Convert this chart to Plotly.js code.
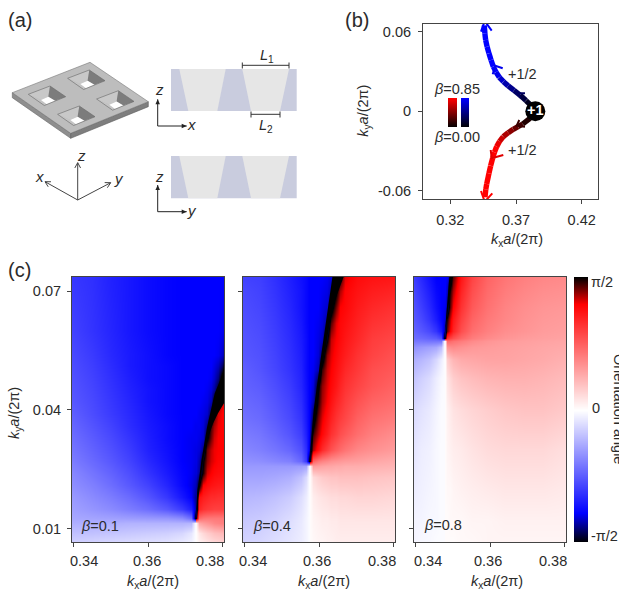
<!DOCTYPE html>
<html><head><meta charset="utf-8">
<script src="https://cdn.plot.ly/plotly-3.0.1.min.js"></script>
<style>html,body{margin:0;padding:0;background:#fff;overflow:hidden}</style>
</head><body><div id="chart" style="width:619px;height:592px"></div>
<script>
// ---------- panel (c) fields: orientation angle in degrees, rows bottom to top
const kx1=[.3395,.345,.35,.355,.36,.365,.369,.3715,.37263,.37267,.3737,.3747,.3757,.3767,.3777,.3787,.3797,.3803];
const ky1=[.0066,.009,.0114,.0126,.015,.018,.021,.024,.027,.03,.033,.036,.039,.042,.045,.048,.051,.054,.06,.0736];
const angle1=[
[-13,-12,-11,-10,-9,-8,-6,-4,-1,1,4,6,8,10,11,12,13,13],
[-17,-17,-16,-15,-14,-13,-11,-7,-1,1,7,11,14,16,18,19,20,21],
[-22,-22,-22,-21,-21,-21,-21,-20,-2,2,25,28,30,32,34,35,36,36],
[-24,-25,-26,-27,-28,-29,-32,-40,-88,-88,42,39,38,38,38,38,38,38],
[-26,-29,-32,-36,-40,-46,-54,-62,-75,-75,62,58,56,55,54,54,54,54],
[-28,-32,-36,-41,-47,-55,-64,-70,-78,-78,68,64,62,60,60,59,59,59],
[-31,-35,-40,-46,-52,-60,-68,-72,-75,-77,-88,72,69,67,66,65,65,65],
[-33,-38,-43,-49,-56,-63,-69,-71,-73,-73,-78,88,75,72,70,69,69,69],
[-36,-41,-46,-52,-59,-65,-70,-71,-72,-72,-76,-89,80,75,73,71,71,71],
[-38,-43,-48,-54,-61,-66,-70,-71,-72,-72,-73,-80,82,76,73,72,72,72],
[-40,-45,-50,-56,-62,-67,-70,-71,-71,-71,-72,-74,-88,82,75,72,72,72],
[-42,-47,-52,-58,-63,-67,-70,-70,-71,-71,-71,-73,-80,85,78,73,72,72],
[-44,-49,-54,-59,-64,-68,-70,-70,-70,-70,-71,-72,-74,-84,84,75,72,72],
[-46,-50,-55,-60,-65,-68,-70,-70,-70,-70,-70,-71,-72,-76,-89,80,74,72],
[-47,-51,-56,-61,-65,-68,-70,-70,-70,-70,-70,-70,-71,-73,-78,-88,78,74],
[-48,-52,-57,-62,-66,-68,-70,-70,-70,-70,-70,-70,-70,-71,-74,-80,85,80],
[-49,-53,-58,-63,-66,-68,-70,-70,-70,-70,-70,-70,-70,-70,-72,-75,-82,-90],
[-50,-54,-59,-63,-66,-69,-70,-70,-70,-70,-70,-70,-70,-70,-70,-71,-74,-78],
[-52,-56,-60,-64,-67,-69,-70,-70,-70,-70,-70,-70,-70,-70,-70,-70,-71,-72],
[-55,-57,-61,-64,-67,-69,-70,-70,-70,-70,-70,-70,-70,-70,-70,-70,-70,-70]];
const bandX1=[.37265,.37309,.37426,.37577,.37782,.3803,.3803,.37869,.3774,.37609,.3747,.3738,.37265];
const bandY1=[.01204,.01896,.02738,.03578,.04422,.05,.0417,.03917,.03664,.03326,.02738,.02064,.01204];

const kx2=[.3395,.344,.348,.352,.355,.3565,.35734,.35736,.3584,.3596,.3608,.362,.3632,.3644,.3656,.3668,.37,.374,.3803];
const ky2=[.0066,.012,.018,.023,.0259,.0272,.03,.034,.038,.042,.046,.05,.054,.058,.062,.066,.07,.0736];
const angle2=[
[-12,-11,-9,-7,-5,-3,-1,1,2,3,3,4,4,5,5,5,5,5,5],
[-15,-14,-12,-9,-6,-3,-1,1,3,4,5,5,6,6,7,7,7,7,7],
[-20,-19,-17,-14,-9,-5,-1,1,5,7,8,9,10,10,11,11,12,12,11],
[-25,-25,-24,-22,-17,-10,-1,1,10,13,15,16,17,17,18,18,18,17,16],
[-28,-28,-28,-28,-27,-25,-2,2,28,27,26,25,25,24,24,23,23,22,21],
[-30,-31,-33,-35,-42,-55,-88,-88,44,38,35,33,31,30,29,28,27,25,23],
[-33,-35,-38,-42,-48,-58,-72,-82,78,68,60,54,49,45,42,39,34,31,28],
[-36,-38,-42,-47,-53,-62,-70,-76,86,77,70,64,58,54,50,47,41,36,32],
[-39,-41,-45,-50,-56,-64,-70,-73,-84,82,74,68,63,58,55,52,45,40,37],
[-41,-43,-47,-52,-58,-65,-70,-71,-76,88,78,72,67,62,59,55,49,44,41],
[-43,-45,-49,-54,-60,-66,-70,-70,-73,-89,80,74,70,66,62,58,53,48,44],
[-44,-47,-51,-56,-61,-67,-70,-70,-71,-76,86,76,72,68,65,61,56,50,47],
[-46,-48,-52,-57,-62,-67,-70,-70,-70,-73,-82,80,74,70,67,64,58,53,49],
[-47,-49,-53,-58,-63,-67,-70,-70,-70,-72,-75,-88,76,72,69,66,61,55,52],
[-48,-50,-54,-59,-64,-68,-70,-70,-70,-71,-73,-78,84,74,70,68,63,58,55],
[-49,-51,-55,-60,-65,-68,-70,-70,-70,-70,-72,-74,-84,82,72,70,65,61,58],
[-50,-52,-56,-61,-65,-68,-70,-70,-70,-70,-71,-72,-76,-88,78,71,67,64,62],
[-52,-53,-57,-62,-66,-68,-70,-70,-70,-70,-70,-71,-73,-80,88,74,69,67,66]];
const bandX2=[.3573,.35847,.3603,.36196,.3635,.3665,.3642,.3628,.3608,.3593,.3573];
const bandY2=[.02654,.04,.0526,.0636,.0736,.0736,.0678,.0619,.051,.04,.02654];

const kx3=[.3395,.3415,.3435,.3455,.3468,.34767,.3477,.3484,.3491,.35,.352,.355,.359,.364,.369,.374,.3803];
const ky3=[.0066,.012,.02,.03,.04,.048,.053,.056,.0574,.0582,.06,.063,.066,.07,.0736];
const angle3=[
[-3,-2,-2,-1,-1,-1,1,1,1,1,2,2,3,3,3,3,3],
[-3,-3,-2,-2,-1,-1,1,1,2,2,2,3,3,4,4,4,4],
[-5,-4,-3,-2,-1,-1,1,2,2,3,4,5,6,7,7,7,6],
[-7,-5,-4,-2,-1,-1,1,3,4,5,6,8,10,11,11,11,9],
[-10,-8,-6,-3,-1,-1,1,4,6,8,10,12,14,16,17,17,15],
[-16,-13,-10,-5,-2,-1,1,8,11,14,17,19,21,22,22,21,19],
[-22,-20,-17,-11,-5,-1,1,14,18,21,24,25,26,26,25,24,22],
[-30,-28,-26,-24,-18,-2,2,30,32,33,31,29,28,27,26,25,24],
[-37,-37,-38,-38,-38,-3,3,42,42,40,37,33,30,28,27,26,25],
[-40,-41,-43,-45,-50,-88,-88,60,54,50,43,37,33,30,28,27,26],
[-43,-46,-50,-56,-64,-75,-78,82,72,62,50,41,36,32,30,28,27],
[-46,-50,-56,-63,-69,-72,-74,88,76,66,54,44,38,34,31,29,28],
[-48,-53,-59,-66,-70,-71,-72,-78,84,72,58,47,40,35,32,30,29],
[-51,-56,-62,-68,-70,-70,-70,-75,88,78,62,50,42,37,34,32,31],
[-54,-59,-65,-70,-70,-70,-70,-71,-80,84,66,53,44,39,36,34,33]];
const bandX3=[.34764,.34827,.34898,.34979,.34871,.34764];
const bandY3=[.05786,.06526,.0736,.0736,.06526,.05786];

const betaLabels=['β=0.1','β=0.4','β=0.8'];
const kxTicks=[.34,.36,.38];
const kxTickText=['0.34','0.36','0.38'];
const kyTicks=[.01,.04,.07];
const kyTickText=['0.01','0.04','0.07'];
const colorbarAngles=[-90,-70,0,72,90];
const colorbarTicks=['-π/2','0','π/2'];

// ---------- panel (b)
const blueArmX=[.3847,.3819,.3776,.3730,.3685,.3641,.3605,.3573,.3548,.3527,.3510,.3494,.3480,.3469,.3463,.3459];
const blueArmY=[0,.0040,.0081,.0123,.0158,.0192,.0224,.0257,.0296,.0338,.0388,.0438,.0488,.0539,.0590,.0650];
const blueArmBeta=[0,.04,.09,.16,.24,.31,.37,.43,.49,.54,.59,.64,.69,.74,.79,.85];
const redArmX=[.3847,.3806,.3751,.3715,.3679,.3641,.3603,.3575,.3553,.3536,.3522,.3507,.3494,.3477,.3470,.3464];
const redArmY=[0,-.0053,-.0096,-.0116,-.0136,-.0162,-.0192,-.0227,-.0267,-.0310,-.0355,-.0412,-.0469,-.0550,-.0590,-.0650];
const redArmBeta=[0,.04,.09,.16,.24,.31,.37,.43,.49,.54,.59,.64,.69,.74,.79,.85];
const headX=[[.34336,.34618,.3515],[.35227,.35425,.35988],[.37304,.37175,.37684],[.37251,.37053,.37685],[.35075,.35151,.36033],[.34336,.34618,.35196]];
const headY=[[.06019,.06828,.06095],[.02798,.03448,.03251],[.01006,.01361,.01361],[-.00658,-.01089,-.01164],[-.02926,-.03554,-.03304],[-.06026,-.06835,-.062]];
const headColor=['#0000ff','#0000ee','#000060','#3a0000','#e00000','#ff0000'];
const bChargeX=[.3847], bChargeY=[0];

// ---------- layout helpers (pixels of the 619x592 page)
const W=619,H=592;
const dx=(a,b)=>[a/W,b/W], dy=(t,b)=>[1-b/H,1-t/H];
const px=x=>x/W, py=y=>1-y/H;
const fam='"Liberation Sans",Arial,sans-serif';
const ink='#2b2b2b', frame='#444';
const fs=14.5;

const cRangeX=[.3395,.3803], cRangeY=[.00665,.0736];
const traces=[];
const heatScale=[[0,'#ffffff'],[72/180,'#ff0000'],[90/180,'#000000'],[110/180,'#0000ff'],[1,'#ffffff']];
const wrap=m=>m.map(r=>r.map(v=>v<0?v+180:v));
[[kx1,ky1,angle1,bandX1,bandY1,'x','y'],[kx2,ky2,angle2,bandX2,bandY2,'x2','y2'],[kx3,ky3,angle3,bandX3,bandY3,'x3','y3']].forEach(p=>{
  traces.push({type:'heatmap',x:p[0],y:p[1],z:wrap(p[2]),zmin:0,zmax:180,zsmooth:'best',colorscale:heatScale,showscale:false,hoverinfo:'skip',xaxis:p[5],yaxis:p[6]});
  traces.push({type:'scatter',mode:'lines',x:p[3],y:p[4],fill:'toself',fillcolor:'#000',line:{width:0,color:'#000'},hoverinfo:'skip',xaxis:p[5],yaxis:p[6]});
});
// colour bar
traces.push({type:'heatmap',x:[0,1],y:colorbarAngles,z:colorbarAngles.map(v=>[v,v]),zmin:-90,zmax:90,zsmooth:'best',showscale:false,hoverinfo:'skip',
  colorscale:[[0,'#000'],[20/180,'#00f'],[.5,'#fff'],[162/180,'#f00'],[1,'#000']],xaxis:'x5',yaxis:'y5'});
// panel b arms
function arm(X,Y,B,rgb){
  for(let i=0;i<X.length-1;i++){
    const t=Math.min(1,(B[i]+B[i+1])/2/.5);
    traces.push({type:'scatter',mode:'lines',x:[X[i],X[i+1]],y:[Y[i],Y[i+1]],cliponaxis:false,hoverinfo:'skip',
      line:{width:5.4,color:`rgb(${rgb.map(c=>Math.round(c*t)).join(',')})`},xaxis:'x4',yaxis:'y4'});
  }
}
arm(blueArmX,blueArmY,blueArmBeta,[0,0,255]);
arm(redArmX,redArmY,redArmBeta,[255,0,0]);
headX.forEach((hx,i)=>traces.push({type:'scatter',mode:'lines',x:hx,y:headY[i],cliponaxis:false,hoverinfo:'skip',
  line:{width:2,color:headColor[i]},xaxis:'x4',yaxis:'y4'}));
traces.push({type:'scatter',mode:'markers+text',x:bChargeX,y:bChargeY,text:['<b>+1</b>'],textposition:'middle center',cliponaxis:false,hoverinfo:'skip',
  textfont:{family:fam,size:14.5,color:'#fff'},marker:{size:20,color:'#000'},xaxis:'x4',yaxis:'y4'});
// beta legend bars
traces.push({type:'heatmap',x:[0,1],y:[0,.85],z:[[0,0],[1,1]],zmin:0,zmax:1,zsmooth:'best',showscale:false,hoverinfo:'skip',colorscale:[[0,'#000'],[1,'#f00']],xaxis:'x6',yaxis:'y6'});
traces.push({type:'heatmap',x:[0,1],y:[0,.85],z:[[0,0],[1,1]],zmin:0,zmax:1,zsmooth:'best',showscale:false,hoverinfo:'skip',colorscale:[[0,'#000'],[1,'#00f']],xaxis:'x7',yaxis:'y7'});

const base={showgrid:false,zeroline:false,showline:true,mirror:true,linecolor:frame,linewidth:1,ticks:'outside',ticklen:4,tickcolor:frame,tickwidth:1,
  tickfont:{family:fam,size:fs,color:ink},fixedrange:true};
const hidden={visible:false,fixedrange:true};
const cx=(i,d)=>Object.assign({},base,{domain:d,range:cRangeX,tickmode:'array',tickvals:kxTicks,ticktext:kxTickText,showticklabels:false,anchor:i});
const cy=(i,d,lab)=>Object.assign({},base,{domain:d,range:cRangeY,tickmode:'array',tickvals:kyTicks,ticktext:kyTickText,showticklabels:lab,anchor:i,ticklabelstandoff:3});
const layout={width:W,height:H,margin:{l:0,r:0,t:0,b:0},paper_bgcolor:'#fff',plot_bgcolor:'rgba(0,0,0,0)',showlegend:false,
  font:{family:fam,size:fs,color:ink},
  xaxis:cx('y',dx(72,224)),yaxis:cy('x',dy(277,542),true),
  xaxis2:cx('y2',dx(243,395)),yaxis2:cy('x2',dy(277,542),false),
  xaxis3:cx('y3',dx(414,566)),yaxis3:cy('x3',dy(277,542),false),
  xaxis4:Object.assign({},base,{domain:dx(423,598),range:[.29922,.4324],tickmode:'array',tickvals:[.32,.37,.42],ticktext:['0.32','0.37','0.42'],anchor:'y4',ticklabelstandoff:4}),
  yaxis4:Object.assign({},base,{domain:dy(24,199),range:[-.06631,.06601],tickmode:'array',tickvals:[-.06,0,.06],ticktext:['-0.06','0','0.06'],anchor:'x4',ticklabelstandoff:4}),
  xaxis5:Object.assign({},hidden,{domain:dx(574,588),range:[0,1],anchor:'y5'}),
  yaxis5:Object.assign({},hidden,{domain:dy(277,542),range:[-90,90],anchor:'x5'}),
  xaxis6:Object.assign({},hidden,{domain:dx(448,457),range:[0,1],anchor:'y6'}),
  yaxis6:Object.assign({},hidden,{domain:dy(98,127),range:[0,.85],anchor:'x6'}),
  xaxis7:Object.assign({},hidden,{domain:dx(461,469),range:[0,1],anchor:'y7'}),
  yaxis7:Object.assign({},hidden,{domain:dy(98,127),range:[0,.85],anchor:'x7'}),
  annotations:[],shapes:[]};

function T(x,y,text,opt){layout.annotations.push(Object.assign({xref:'paper',yref:'paper',x:px(x),y:py(y),xanchor:'center',yanchor:'middle',text,showarrow:false,
  font:{family:fam,size:fs,color:ink}},opt||{}));}
const kxLabel='<i>k</i><sub>x</sub><i>a</i>/(2π)', kyLabel='<i>k</i><sub>y</sub><i>a</i>/(2π)';
T(20,20,'(a)',{font:{family:fam,size:20,color:ink}});
T(357,20,'(b)',{font:{family:fam,size:20,color:ink}});
T(19,270,'(c)',{font:{family:fam,size:20,color:ink}});
T(516.7,240,kxLabel); T(364,110.7,kyLabel,{textangle:-90});
T(15,413,kyLabel,{textangle:-90});
[153,324.3,496.7].forEach(x=>T(x,581.7,kxLabel));
[[84,146.7,210],[253.3,316.7,381.7],[428.3,487.7,552.7]].forEach(r=>r.forEach((x,i)=>T(x,561,kxTickText[i])));
[[100,525.7],[271.7,525.7],[442.7,525]].forEach((p,i)=>T(p[0],p[1],betaLabels[i].replace('β','<i>β</i>')));
T(604.3,535.7,colorbarTicks[0]);T(595.7,408.3,colorbarTicks[1]);T(602.3,282.3,colorbarTicks[2]);
T(619,409,'Orientation angle',{textangle:90,font:{family:fam,size:14.5,color:ink}});
T(522.7,74,'+1/2');T(522.7,150,'+1/2');
T(457.3,89.3,'<i>β</i>=0.85');T(457.3,137.3,'<i>β</i>=0.00');
// panel (a) text
const it=(x,y,s)=>T(x,y,'<i>'+s+'</i>',{font:{family:fam,size:15,color:ink}});
it(81,155,'z');it(39.3,176.7,'x');it(119,178.3,'y');
it(159,90,'z');it(191.7,124.3,'x');it(159,176.7,'z');it(191.7,210.7,'y');
T(266.7,56,'<i>L</i><sub>1</sub>');T(266,126,'<i>L</i><sub>2</sub>');

// ---------- panel (a) schematic
const S=(pts,fill,line)=>layout.shapes.push({type:'path',xref:'paper',yref:'paper',layer:'above',
  path:'M'+pts.map(p=>px(p[0])+' '+py(p[1])).join('L')+'Z',fillcolor:fill,line:line?{color:line,width:.6}:{width:0}});
const L=(x0,y0,x1,y1,c,w)=>layout.shapes.push({type:'line',xref:'paper',yref:'paper',layer:'above',x0:px(x0),y0:py(y0),x1:px(x1),y1:py(y1),line:{color:c,width:w}});
S([[12.3,92.7],[70.7,133.3],[70.7,138.3],[12.3,97.7]],'#8e8e8e','#666');
S([[70.7,133.3],[148.3,101.7],[148.3,106.7],[70.7,138.3]],'#7e7e7e','#5c5c5c');
S([[90,62.3],[12.3,92.7],[70.7,133.3],[148.3,101.7]],'#bdbdbd','#777');
[[0,0],[39.3,-16],[68.3,4.7],[29.3,20]].forEach(o=>{
  const m=p=>p.map(q=>[q[0]+o[0],q[1]+o[1]]);
  const l=[28.3,94.3],t=[50,86],r=[65.7,96.7],b=[44.3,105.5],il=[41,100],itp=[48.3,96.7],ir=[55,100.7],ib=[46.7,104.3];
  S(m([l,t,itp,il]),'#c8c8c8');S(m([t,r,ir,itp]),'#7c7c7c');S(m([l,il,ib,b]),'#c4c4c4');S(m([r,ir,ib,b]),'#b8b8b8');
  S(m([il,itp,ir,ib]),'#ffffff');
  S(m([l,t,r,b]),'rgba(0,0,0,0)','#666');
});
// cross-sections
const gap='#e6e6e6', wall='#c9ccde';
[[69,111],[156,198.3]].forEach(v=>{
  S([[171,v[0]],[296.7,v[0]],[296.7,v[1]],[171,v[1]]],wall);
  S([[179.3,v[0]],[225.7,v[0]],[217.3,v[1]],[188.3,v[1]]],gap);
  S([[242.3,v[0]],[289,v[0]],[280,v[1]],[251,v[1]]],gap);
});
// arrows
const AR='#222';
function head(x0,y0,x1,y1,s){const a=Math.atan2(y1-y0,x1-x0),c=Math.cos(a),n=Math.sin(a);
  S([[x1,y1],[x1-s*c-s*.45*-n,y1-s*n-s*.45*c],[x1-s*c+s*.45*-n,y1-s*n+s*.45*c]],AR);}
function arrow(x0,y0,x1,y1){L(x0,y0,x1,y1,AR,1);head(x0,y0,x1,y1,5);}
arrow(157.7,126,157.7,99.3);arrow(157.7,126,186.7,126);
arrow(157.7,211.7,157.7,185);arrow(157.7,211.7,186.7,211.7);
[[77.7,162.7],[45,181.7],[110.7,182.7]].forEach(p=>{L(77.7,200,p[0],p[1],'#444',1);
  const a=Math.atan2(p[1]-200,p[0]-77.7),s=6;
  [.5,-.5].forEach(d=>L(p[0],p[1],p[0]-s*Math.cos(a+d),p[1]-s*Math.sin(a+d),'#444',1));});
L(242.3,65.3,289,65.3,'#333',1);L(242.3,62.5,242.3,68.5,'#333',1);L(289,62.5,289,68.5,'#333',1);
L(251,114.3,280,114.3,'#333',1);L(251,111.5,251,117.5,'#333',1);L(280,111.5,280,117.5,'#333',1);

Plotly.newPlot('chart',traces,layout,{staticPlot:true,displayModeBar:false});
</script></body></html>
